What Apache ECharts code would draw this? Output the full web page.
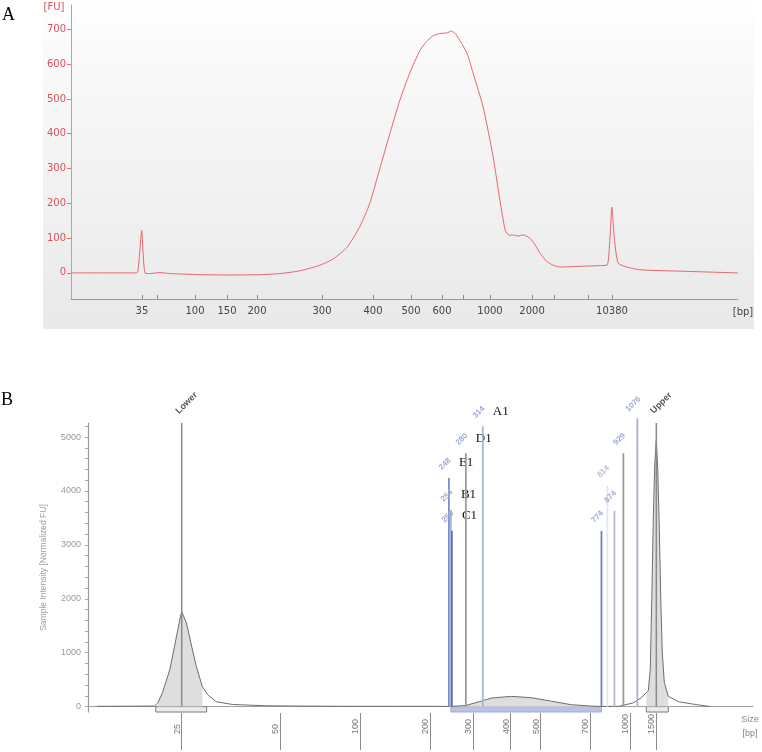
<!DOCTYPE html>
<html>
<head>
<meta charset="utf-8">
<script src="https://cdn.jsdelivr.net/npm/echarts@6/dist/echarts.min.js"></script>
<style>
  html, body { margin: 0; padding: 0; background: #fff; }
  #chart { width: 762px; height: 752px; }
</style>
</head>
<body>
<div id="chart"></div>
<script>
// ---------------- panel A: electropherogram (migration units 0-100) ----------------
var aPos = [0, 4.3, 9.6, 10.0, 10.3, 10.6, 10.8, 11.1, 11.8, 13.3, 14.8, 16.3, 19.3, 23.8, 28.3, 31.3,
  34.3, 37.3, 39.3, 41.4, 43.3, 44.8, 46.3, 47.8, 49.3, 50.8, 52.3, 53.3, 54.3, 55.3, 56.4, 57.0,
  57.6, 58.3, 59.4, 60.3, 61.8, 63.3, 64.3, 65.1, 65.7, 66.3, 67.0, 67.8, 68.8, 69.6, 70.3, 71.4,
  72.3, 73.3, 76.3, 79.3, 80.4, 80.8, 81.1, 81.4, 82.0, 83.1, 85.3, 91.3, 100];
var aFU = [0, 0, 0, 2, 60, 122, 60, 0, -2, 1, -2, -3, -5, -6, -5, -2,
  6, 22, 40, 74, 133, 200, 300, 400, 496, 575, 639, 665, 682, 688, 690, 695,
  688, 668, 630, 573, 476, 332, 209, 123, 108, 109, 106, 109, 100, 80, 57, 32,
  22, 17, 19, 21, 23, 100, 189, 110, 29, 18, 9, 5, 0];
var aTickPos = [10.64, 18.59, 23.39, 27.89, 37.63, 45.28, 50.97, 55.62, 62.82, 69.12, 81.11];
var aTickLbl = ['35', '100', '150', '200', '300', '400', '500', '600', '1000', '2000', '10380'];
var aMinorPos = [12.89, 58.77, 72.41, 77.51];
var aYTicks = [0, 100, 200, 300, 400, 500, 600, 700];

// ---------------- panel B: TapeStation-like trace ----------------
var bPos = [1.35, 6.3, 10.0, 10.5, 11.2, 12.3, 13.0, 13.8, 14.09, 14.8, 15.6, 16.3, 17.2, 18.0, 19.3,
  21.7, 26.8, 31.8, 39.3, 46.8, 52.0, 54.57, 56.8, 58.8, 60.7, 63.7, 66.7, 69.7, 72.7, 75.7, 77.21,
  79.8, 82.01, 83.21, 83.96, 84.26, 84.56, 84.78, 85.01, 85.23, 85.46, 85.68, 85.91, 86.13, 86.36,
  86.66, 87.26, 88.8, 91.3, 93.6];
var bFU = [5, 8, 10, 70, 260, 685, 1110, 1610, 1760, 1555, 1110, 740, 370, 220, 90,
  40, 15, 10, 5, 5, 5, 3, 20, 90, 160, 190, 165, 100, 35, 10, 3,
  5, 70, 165, 260, 300, 700, 2000, 3500, 4500, 4950, 4400, 3300, 2000, 1000,
  450, 190, 90, 40, 0];
var bTickPos = [14.09, 28.94, 40.93, 51.42, 57.87, 63.57, 68.07, 75.56, 81.56, 85.46];
var bTickLbl = ['25', '50', '100', '200', '300', '400', '500', '700', '1000', '1500'];
var bYTicks = [0, 1000, 2000, 3000, 4000, 5000];
var bYMinor = [0, 200, 400, 600, 800, 1000, 1200, 1400, 1600, 1800, 2000, 2200, 2400, 2600, 2800,
  3000, 3200, 3400, 3600, 3800, 4000, 4200, 4400, 4600, 4800, 5000, 5200];

// integrated regions (start, end) in migration units
var regionStart = [10.19, 54.57, 83.96];
var regionEnd = [17.84, 77.21, 87.26];

// called peaks
var peakPos = [54.27, 54.57, 54.72, 56.82, 59.37, 77.21, 78.1, 79.16, 80.51, 82.61];
var peakHeight = [4240, 3650, 3260, 4700, 5200, 3260, 4100, 3630, 4700, 5350];
var peakSize = ['248', '254', '256', '280', '314', '774', '814', '874', '929', '1076'];
var peakTag = ['E1', 'B1', 'C1', 'D1', 'A1', '', '', '', '', ''];
// ladder markers
var ladderPos = [14.09, 85.46];
var ladderHeight = [5260, 5260];
var ladderName = ['Lower', 'Upper'];

var peakColors = ['#7d8fc9', '#aab4d8', '#5f73b8', '#9a9a9a', '#a7b4da',
  '#6f80c0', '#e3e7f2', '#b0b8d0', '#9a9a9a', '#a9b2cc'];

function zip(xs, ys) {
  return xs.map(function (x, i) { return [x, ys[i]]; });
}
function lookup(pos, lbl) {
  return function (v) {
    for (var i = 0; i < pos.length; i++) {
      if (Math.abs(pos[i] - v) < 1e-6) return lbl[i];
    }
    return '';
  };
}

var bTrace = zip(bPos, bFU);
var peakData = peakPos.map(function (p, i) { return [p, peakHeight[i], i, 0]; })
  .concat(ladderPos.map(function (p, i) { return [p, ladderHeight[i], i, 1]; }));

var series = [
  {
    type: 'line', xAxisIndex: 0, yAxisIndex: 0,
    data: zip(aPos, aFU), symbol: 'none', smooth: 0.2,
    lineStyle: { color: '#e8646e', width: 1 }, silent: true
  }
];

// fills under the integrated regions
regionStart.forEach(function (s, r) {
  var e = regionEnd[r];
  series.push({
    type: 'line', xAxisIndex: 1, yAxisIndex: 1, z: 1,
    data: bTrace.filter(function (d) { return d[0] >= s - 1e-6 && d[0] <= e + 1e-6; }),
    symbol: 'none', lineStyle: { width: 0 },
    areaStyle: { color: '#dedede', opacity: 1, origin: 0 }, silent: true
  });
});

series.push({
  type: 'line', xAxisIndex: 1, yAxisIndex: 1, z: 3,
  data: bTrace, symbol: 'none',
  lineStyle: { color: '#6e6e6e', width: 1 }, silent: true,
  markArea: {
    silent: true,
    data: regionStart.map(function (s, r) {
      var blue = r === 1;
      return [
        { xAxis: s, yAxis: -100, itemStyle: {
          color: blue ? '#bcc3e0' : '#ececec',
          borderColor: blue ? '#a3acd4' : '#7a7a7a', borderWidth: 1 } },
        { xAxis: regionEnd[r], yAxis: 0 }
      ];
    })
  }
});

series.push({
  type: 'custom', xAxisIndex: 1, yAxisIndex: 1, z: 4, clip: false, silent: true,
  encode: { x: 0, y: 1 },
  data: peakData,
  renderItem: function (params, api) {
    var x = api.value(0), h = api.value(1), idx = api.value(2), ladder = api.value(3);
    var p0 = api.coord([x, 0]);
    var p1 = api.coord([x, h]);
    var children = [{
      type: 'line',
      shape: { x1: p0[0], y1: p0[1], x2: p1[0], y2: p1[1] },
      style: { stroke: ladder ? '#8a8a8a' : peakColors[idx], lineWidth: ladder ? 1.5 : 1.8 }
    }];
    if (ladder) {
      children.push({
        type: 'text', x: p1[0] + 5, y: p1[1] - 20, rotation: Math.PI / 4,
        style: { text: ladderName[idx], fill: '#555', font: 'bold 9px "Liberation Sans"',
          align: 'center', verticalAlign: 'middle' }
      });
    } else {
      children.push({
        type: 'text', x: p1[0] - 4, y: p1[1] - 14, rotation: Math.PI / 4,
        style: { text: peakSize[idx], fill: idx === 6 ? '#b5bfdd' : '#9eabd6',
          font: 'bold 8px "Liberation Sans"', align: 'center', verticalAlign: 'middle' }
      });
      if (peakTag[idx]) {
        children.push({
          type: 'text', x: p1[0] + 10, y: p1[1] - 15,
          style: { text: peakTag[idx], fill: '#111', font: '13px "Liberation Serif"',
            align: 'left', verticalAlign: 'middle' }
        });
      }
    }
    return { type: 'group', children: children };
  }
});

var chart = echarts.init(document.getElementById('chart'));
var option = {
  animation: false,
  backgroundColor: '#ffffff',
  graphic: [
    {
      type: 'rect', z: -10, silent: true,
      shape: { x: 43, y: 0, width: 711, height: 329 },
      style: { fill: new echarts.graphic.LinearGradient(0, 0, 0, 1, [
        { offset: 0, color: '#ffffff' }, { offset: 0.15, color: '#fafafa' }, { offset: 1, color: '#e9e9e9' }]) }
    },
    { type: 'text', left: 2, top: 6, style: { text: 'A', font: '18px "Liberation Serif"', fill: '#000' } },
    { type: 'text', left: 1, top: 391, style: { text: 'B', font: '18px "Liberation Serif"', fill: '#000' } },
    { type: 'text', x: 54, y: 7, style: { text: '[FU]', font: '10px "DejaVu Sans"', fill: '#e0505a', align: 'center', verticalAlign: 'middle' } },
    { type: 'text', x: 743, y: 312, style: { text: '[bp]', font: '10px "DejaVu Sans"', fill: '#444', align: 'center', verticalAlign: 'middle' } },
    { type: 'text', x: 750, y: 720, style: { text: 'Size', font: '9px "Liberation Sans"', fill: '#888', align: 'center', verticalAlign: 'middle' } },
    { type: 'text', x: 750, y: 734, style: { text: '[bp]', font: '9px "Liberation Sans"', fill: '#888', align: 'center', verticalAlign: 'middle' } }
  ],
  grid: [
    { left: 71, right: 24, top: 5, bottom: 453 },
    { left: 88, right: 9, top: 423, bottom: 40 }
  ],
  xAxis: [
    {
      gridIndex: 0, type: 'value', min: 0, max: 100,
      axisLine: { onZero: false, lineStyle: { color: '#999', width: 1 } },
      axisTick: { inside: true, length: 4, customValues: aTickPos.concat(aMinorPos), lineStyle: { color: '#888' } },
      axisLabel: { customValues: aTickPos, formatter: lookup(aTickPos, aTickLbl),
        color: '#444', fontSize: 10, fontFamily: 'DejaVu Sans', margin: 7 },
      splitLine: { show: false }
    },
    {
      gridIndex: 1, type: 'value', min: 0, max: 100,
      axisLine: { lineStyle: { color: '#a0a0a0', width: 1.2 } },
      axisTick: { show: false }, axisLabel: { show: false }, splitLine: { show: false }
    },
    {
      gridIndex: 1, type: 'value', min: 0, max: 100, position: 'bottom', offset: 1,
      axisLine: { show: false, onZero: false },
      axisTick: { customValues: bTickPos, length: 37, lineStyle: { color: '#8a8a8a', width: 1 } },
      axisLabel: { customValues: bTickPos, formatter: lookup(bTickPos, bTickLbl), rotate: 90,
        align: 'left', verticalAlign: 'bottom', margin: 21,
        color: '#777', fontSize: 9, fontFamily: 'Liberation Sans' },
      splitLine: { show: false }
    }
  ],
  yAxis: [
    {
      gridIndex: 0, type: 'value', min: -75, max: 770,
      axisLine: { show: true, onZero: false, lineStyle: { color: '#f08a92', width: 1 } },
      axisTick: { show: true, length: 4, customValues: aYTicks, lineStyle: { color: '#e8707a' } },
      axisLabel: { customValues: aYTicks, formatter: function (v) { return String(v); },
        color: '#e0505a', fontSize: 10, fontFamily: 'DejaVu Sans', margin: 5 },
      splitLine: { show: false }
    },
    {
      gridIndex: 1, type: 'value', min: -100, max: 5260,
      name: 'Sample Intensity [Normalized FU]', nameLocation: 'middle', nameGap: 40,
      nameTextStyle: { color: '#a0a0a0', fontSize: 8.5, fontFamily: 'Liberation Sans' },
      axisLine: { show: true, onZero: false, lineStyle: { color: '#9a9a9a', width: 1.2 } },
      axisTick: { show: true, length: 3, customValues: bYMinor, lineStyle: { color: '#aaa' } },
      axisLabel: { customValues: bYTicks, formatter: function (v) { return String(v); },
        color: '#999', fontSize: 9, fontFamily: 'Liberation Sans', margin: 7 },
      splitLine: { show: false }
    }
  ],
  series: series
};
chart.setOption(option);
</script>
</body>
</html>
